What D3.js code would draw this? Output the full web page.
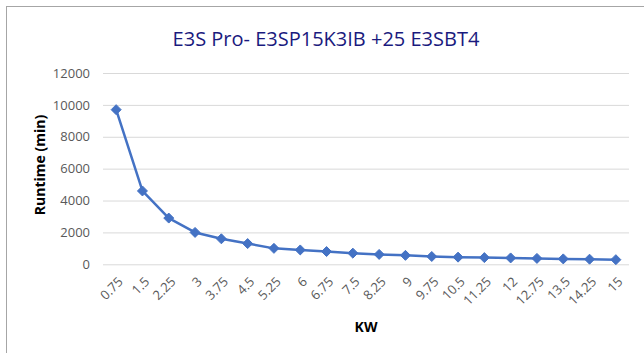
<!DOCTYPE html>
<html><head><meta charset="utf-8">
<script src="https://cdn.jsdelivr.net/npm/d3@7"></script>
<style>body{margin:0;background:#fff}svg{display:block}</style>
</head><body>
<svg id="chart" width="644" height="353"></svg>
<script>
const categories = ["0.75","1.5","2.25","3","3.75","4.5","5.25","6","6.75","7.5","8.25","9","9.75","10.5","11.25","12","12.75","13.5","14.25","15"];
const runtime = [9700,4600,2900,2000,1600,1300,1000,900,800,700,620,560,490,450,420,400,370,340,320,290];
const yTicks = [0,2000,4000,6000,8000,10000,12000];
const titleText = "E3S Pro- E3SP15K3IB +25 E3SBT4";
const xTitle = "KW";
const yTitle = "Runtime (min)";

const svg = d3.select("#chart");
const font = "'Open Sans', 'Noto Sans', sans-serif";
const plot = {left:103, right:629, top:73, bottom:264.3};

svg.append("rect").attr("x",6.5).attr("y",6.5).attr("width",700).attr("height",400)
  .attr("fill","#fff").attr("stroke","#a6a6a6").attr("stroke-width",1);

const x = d3.scalePoint().domain(categories).range([plot.left, plot.right]).padding(0.5);
const y = d3.scaleLinear().domain([0,12000]).range([plot.bottom, plot.top]);

const yAxis = d3.axisLeft(y).tickValues(yTicks).tickSize(-(plot.right-plot.left)).tickPadding(13).tickFormat(d3.format("d"));
const gy = svg.append("g").attr("transform",`translate(${plot.left},0)`).call(yAxis);
gy.select(".domain").remove();
gy.selectAll(".tick line").attr("stroke","#d9d9d9").attr("stroke-width",1);
gy.selectAll(".tick text").attr("fill","#595959").style("font-family",font).style("font-size","13px");

const xAxis = d3.axisBottom(x).tickSize(0).tickPadding(0);
const gx = svg.append("g").attr("transform",`translate(0,${plot.bottom})`).call(xAxis);
gx.select(".domain").remove();
gx.selectAll(".tick text")
  .attr("fill","#595959").style("font-family",font).style("font-size","13px")
  .attr("text-anchor","end").attr("dy","0.35em")
  .attr("transform","translate(4,15) rotate(-45)")
  .attr("y",0).attr("x",0);

const line = d3.line().x((d,i)=>x(categories[i])).y(d=>y(d));
svg.append("path").datum(runtime).attr("d",line).attr("fill","none")
  .attr("stroke","#4472c4").attr("stroke-width",2.5).attr("stroke-linejoin","round");

const r = 5;
const diamond = `M0,${-r}L${r},0L0,${r}L${-r},0Z`;
svg.append("g").selectAll("path").data(runtime).join("path")
  .attr("d",diamond).attr("transform",(d,i)=>`translate(${x(categories[i])},${y(d)})`)
  .attr("fill","#4472c4").attr("stroke","#4472c4").attr("stroke-width",1);

svg.append("text").attr("x",326).attr("y",46).attr("text-anchor","middle")
  .attr("fill","#1a1a7e").style("font-family",font).style("font-size","20px").text(titleText);
svg.append("text").attr("transform","translate(45,165) rotate(-90)").attr("text-anchor","middle")
  .attr("fill","#000").style("font-family",font).style("font-size","14px").style("font-weight","bold").text(yTitle);
svg.append("text").attr("x",366).attr("y",332).attr("text-anchor","middle")
  .attr("fill","#000").style("font-family",font).style("font-size","14px").style("font-weight","bold").text(xTitle);
</script>
</body></html>
